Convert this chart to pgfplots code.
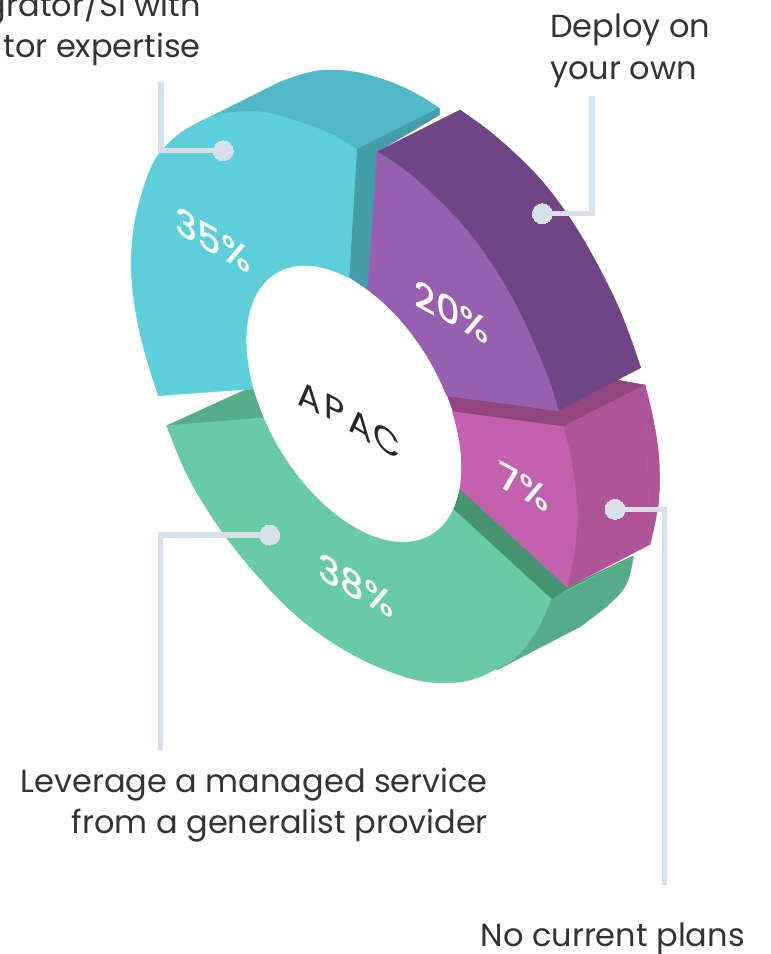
\documentclass[border=0pt]{standalone}
\usepackage{fontspec}
\setmainfont{Poppins}
\newfontfamily\pctfont{Poppins}[UprightFont=* Medium]
\usepackage{pgfplots}
\pgfplotsset{compat=1.18}
\definecolor{cyanT}{HTML}{5DCFDA}
\definecolor{cyanS}{HTML}{50B9C5}
\definecolor{cyanD}{HTML}{449EA9}
\definecolor{purpT}{HTML}{975FB0}
\definecolor{purpS}{HTML}{6F4585}
\definecolor{pinkT}{HTML}{C361AF}
\definecolor{pinkS}{HTML}{AF5499}
\definecolor{pinkD}{HTML}{93457F}
\definecolor{greenT}{HTML}{69CBA4}
\definecolor{greenS}{HTML}{55AD88}
\definecolor{greenD}{HTML}{449470}
\definecolor{leader}{HTML}{D6E0EA}
\definecolor{ink}{HTML}{333333}

\pgfplotsset{
  poly/.style={fill=#1,draw=#1,line width=0.5pt,no markers,sharp plot,line join=round},
  cap/.style={fill=#1,draw=#1,line width=0.5pt,no markers,smooth,tension=0.6,line join=round},
  lead/.style={leader,line width=5.3pt,no markers,sharp plot},
  dot/.style={only marks,mark=*,mark size=10pt,mark options={fill=leader,draw=leader,line width=0pt}},
}
\tikzset{
  side/.style={inner sep=0pt,text=ink,font=\fontsize{32}{36}\selectfont},
  pct/.style={text=white,inner sep=0pt,transform shape,yslant=-0.55,font=\pctfont\fontsize{37}{40}\selectfont},
  word/.style={text=black!85,inner sep=0pt,transform shape,font=\fontsize{35}{40}\selectfont},
}

\begin{document}
\begin{tikzpicture}
\path[use as bounding box] (0,0) rectangle (771pt,954pt);
\clip (0,0) rectangle (771pt,954pt);
\begin{axis}[
  at={(0,0)}, anchor=south west,
  scale only axis, width=771pt, height=954pt,
  xmin=0, xmax=771, ymin=0, ymax=954, y dir=reverse,
  hide axis, clip=false,
]
% 35% block: rim, cut wall, face
\addplot[poly=cyanS] coordinates {(200,122) (280,82) (439.3,108.3) (356.7,149.3)} -- cycle;
\addplot[cap=cyanS] coordinates {(280,82) (307,73) (330,70) (360,73) (393,83) (420,96) (439.3,108.3)} -- cycle;
\addplot[poly=cyanD] coordinates {(356.7,149.3) (439.3,108.3) (439.3,115) (377.3,151.7) (367.7,290) (349,277)} -- cycle;
\addplot[poly=cyanT] coordinates {(158.3,395.7) (356.7,149.3) (349,277) (300,350) (264,388)} -- cycle;
\addplot[cap=cyanT] coordinates {(158.3,395.7) (145,353) (136.7,317) (131.7,277) (132.7,237) (140,200) (153.3,163) (170,142) (190,127) (216.7,115) (243.3,111.7) (270,113.3) (303.3,123.3) (333.3,135) (356.7,149.3)} -- cycle;

% 7% block, top wall goes under the purple rim
\addplot[poly=pinkD] coordinates {(447.3,395.7) (558.3,410.7) (616.7,380) (645,385) (563.3,426.7) (453.3,411.7)} -- cycle;

% 20% block
\addplot[poly=purpS] coordinates {(460,110) (640.7,367.7) (558.3,410.7) (377.3,151.7)} -- cycle;
\addplot[cap=purpS] coordinates {(460,110) (490,131.7) (520,158.3) (546.7,186.7) (573.3,223.3) (596.7,263.3) (616.7,303.3) (630,336.7) (640.7,367.7)} -- cycle;
\addplot[poly=purpT] coordinates {(377.3,151.7) (558.3,410.7) (447.3,395.7) (400,350) (367.7,290)} -- cycle;
\addplot[cap=purpT] coordinates {(377.3,151.7) (406.7,171.7) (436.7,198.3) (466.7,230) (493.3,266.7) (516.7,306.7) (536.7,350) (550,383.3) (558.3,410.7)} -- cycle;

% 38% block walls
\addplot[poly=greenD] coordinates {(459.3,488.3) (567.3,587.3) (551,599) (453.3,509.3)} -- cycle;
\addplot[poly=greenS] coordinates {(551,599) (633.3,556.7) (580,626.7) (496.7,670)} -- cycle;
\addplot[cap=greenS] coordinates {(633.3,556.7) (626.7,583.3) (610,603.3) (580,626.7)} -- cycle;
\addplot[poly=greenD] coordinates {(551,599) (567.3,587.3) (632.5,556.3) (567.3,589.5)} -- cycle;
\addplot[poly=greenS] coordinates {(166.7,425.7) (245,390) (264,389) (275,417)} -- cycle;

% 7% block rim and face
\addplot[poly=pinkS] coordinates {(563.3,426.7) (645,385) (650,544.3) (567.3,587.3)} -- cycle;
\addplot[cap=pinkS] coordinates {(645,385) (653.3,420) (659,460) (658.3,503.3) (650,544.3)} -- cycle;
\addplot[poly=pinkT] coordinates {(451.7,411.7) (563.3,426.7) (567.3,587.3) (459.3,488.3) (461,466)} -- cycle;
\addplot[cap=pinkT] coordinates {(563.3,426.7) (571.7,463.3) (577.3,510) (575,546.7) (567.3,587.3)} -- cycle;

% 38% face
\addplot[poly=greenT] coordinates {(166.7,425.7) (275,417) (453.3,509.3) (551,599)} -- cycle;
\addplot[cap=greenT] coordinates {(166.7,425.7) (183.3,466.7) (203.3,503.3) (233.3,546.7) (276.7,596.7) (316.7,631.7) (363.3,660) (410,678.3) (443.3,682.7) (470,680) (496,669) (519,654) (538,628) (551,599)} -- cycle;

% centre hole
\addplot[cap=white] coordinates {(454.5,421.4) (461,467.1) (454.5,505.2) (435.9,531) (407.4,541.5) (372.5,535.5) (335.3,513.5) (300.3,478.3) (271.8,434.2) (253.2,386.3) (246.7,340.6) (253.2,302.5) (271.8,276.7) (300.3,266.2) (335.2,272.2) (372.4,294.2) (407.4,329.4) (435.9,373.5) (454.5,421.4) (461,467.1) (454.5,505.2)};

% leaders
\addplot[lead] coordinates {(161,82) (161,150.7) (223.3,150.7)};
\addplot[lead] coordinates {(592,96) (592,213.7) (542.3,213.7)};
\addplot[lead] coordinates {(615,509.3) (664.3,509.3) (664.3,885)};
\addplot[lead] coordinates {(269.7,535) (160.7,535) (160.7,750)};
\addplot[dot] coordinates {(223.3,150.7) (542.3,213.7) (615,509.3) (269.7,535)};

% side labels
\node[side,anchor=base east] at (axis cs:201,16) {grator/SI with};
\node[side,anchor=base east] at (axis cs:201,57) {tor expertise};
\node[side,anchor=base west] at (axis cs:550,37) {Deploy on};
\node[side,anchor=base west] at (axis cs:550,79) {your own};
\node[side,anchor=base east] at (axis cs:488,792) {Leverage a managed service};
\node[side,anchor=base east] at (axis cs:488,833) {from a generalist provider};
\node[side,anchor=base east] at (axis cs:745,946) {No current plans};

% percentages
\node[pct] at (axis cs:213,240) {35\%};
\node[pct] at (axis cs:452,312) {20\%};
\node[pct] at (axis cs:524,487) {7\%};
\node[pct] at (axis cs:356,586) {38\%};

% centre word, set letter by letter on the slope
\node[word,yslant=-0.45] at (axis cs:309,398) {A};
\node[word,yslant=-0.5] at (axis cs:335,409) {P};
\node[word,yslant=-0.6] at (axis cs:360,425) {A};
\node[word,yslant=-0.7] at (axis cs:387,441) {C};
\end{axis}
\end{tikzpicture}
\end{document}
